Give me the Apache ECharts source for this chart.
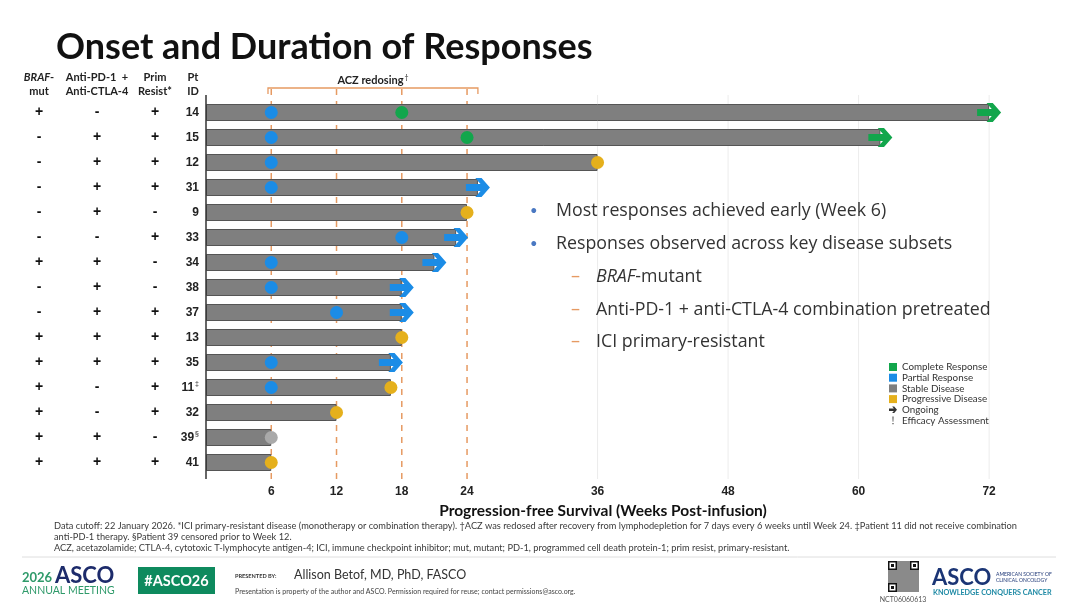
<!DOCTYPE html>
<html>
<head>
<meta charset="utf-8">
<script src="https://cdn.jsdelivr.net/npm/echarts@6/dist/echarts.min.js"></script>
<style>
  html, body { margin: 0; padding: 0; background: #fff; }
  #chart { width: 1080px; height: 608px; }
</style>
</head>
<body>
<div id="chart"></div>
<script>
// patients, top to bottom
const ptIds = ['14', '15', '12', '31', '9', '33', '34', '38', '37', '13', '35', '11', '32', '39', '41'];
const ptMarks = ['', '', '', '', '', '', '', '', '', '', '', '‡', '', '§', ''];
const brafMut = ['+', '-', '-', '-', '-', '-', '+', '-', '-', '+', '+', '+', '+', '+', '+'];
const antiPd1Ctla4 = ['-', '+', '+', '+', '+', '-', '+', '+', '+', '+', '+', '-', '-', '+', '+'];
const primResist = ['+', '+', '+', '+', '-', '+', '-', '-', '+', '+', '+', '+', '+', '-', '+'];
const pfsWeeks = [72, 62, 36, 25, 24, 23, 21, 18, 18, 18, 17, 17, 12, 6, 6];

// [patient, week]
const completeResponse = [['14', 18], ['15', 24]];
const partialResponse = [['14', 6], ['15', 6], ['12', 6], ['31', 6], ['33', 18], ['34', 6],
  ['38', 6], ['37', 12], ['35', 6], ['11', 6]];
const progressiveDisease = [['12', 36], ['9', 24], ['13', 18], ['11', 17], ['32', 12], ['41', 6]];
const stableDisease = [['39', 6]];
const ongoingIds = ['14', '15', '31', '33', '34', '38', '37', '35'];

const xTicks = [6, 12, 18, 24, 36, 48, 60, 72];
const assessmentWeeks = [6, 12, 18, 24];
const gridWeeks = [36, 48, 60, 72];
const aczBracket = [5.7, 25];

const COLORS = {
  cr: '#12a64c', pr: '#1b8ce6', sd: '#7f7f7f', pd: '#e5b01c', sdDot: '#a9a9a9',
  orange: '#e69a62', ink: '#222'
};
const ARROW = 'path://M0,6L14,6L9,0L15,0L23,9.5L15,19L9,19L14,13L0,13Z';
const BANG = 'path://M0,0L0.01,0Z M8,12L8.01,12Z M3.1,0L4.9,0L4.5,8L3.5,8Z M3.1,9.8L4.9,9.8L4.9,11.8L3.1,11.8Z';
const SANS = 'Liberation Sans';
const LATO = 'Lato';
const BODY = 'Open Sans';

const idx = id => ptIds.indexOf(id);
const toPoints = list => list.map(([id, w]) => [w, idx(id)]);
const crIds = completeResponse.map(d => d[0]);

const chart = echarts.init(document.getElementById('chart'));

const tableAxis = (values, offset) => ({
  type: 'category',
  data: ptIds,
  inverse: true,
  position: 'left',
  offset,
  axisLine: { show: false },
  axisTick: { show: false },
  axisLabel: {
    margin: 0,
    align: 'center',
    fontFamily: SANS,
    fontWeight: 'bold',
    fontSize: 14,
    color: '#111',
    formatter: (v, i) => values[i]
  }
});

const dotSeries = (name, list, color) => ({
  name,
  type: 'scatter',
  data: toPoints(list),
  symbolSize: 13,
  z: 4,
  itemStyle: { color, opacity: 1 }
});

chart.setOption({
  backgroundColor: '#fff',
  animation: false,
  grid: { left: 206, right: 80, top: 100, bottom: 133 },
  legend: {
    left: 889,
    top: 362,
    orient: 'vertical',
    selectedMode: false,
    itemWidth: 8,
    itemHeight: 8,
    itemGap: 0.7,
    padding: 0,
    textStyle: { fontFamily: LATO, fontSize: 9.8, color: '#333', lineHeight: 10 },
    data: [
      { name: 'Complete Response', icon: 'rect' },
      { name: 'Partial Response', icon: 'rect' },
      { name: 'Stable Disease', icon: 'rect', itemStyle: { color: COLORS.sd, borderWidth: 0 } },
      { name: 'Progressive Disease', icon: 'rect' },
      { name: 'Ongoing', icon: ARROW, itemStyle: { color: '#000' } },
      { name: 'Efficacy Assessment', icon: BANG, itemStyle: { color: '#222' } }
    ]
  },
  xAxis: {
    type: 'value',
    min: 0,
    max: 73,
    offset: 4,
    splitLine: { show: false },
    axisLine: { lineStyle: { color: '#333', width: 1.5 } },
    axisTick: { customValues: xTicks, length: 5, lineStyle: { color: '#333' } },
    axisLabel: {
      customValues: xTicks,
      margin: 7,
      fontFamily: SANS,
      fontWeight: 'bold',
      fontSize: 12,
      color: COLORS.ink
    },
    name: 'Progression-free Survival (Weeks Post-infusion)',
    nameLocation: 'middle',
    nameGap: 24,
    nameTextStyle: { fontFamily: LATO, fontWeight: 'bold', fontSize: 15.5, color: '#111' }
  },
  yAxis: [
    {
      type: 'category',
      data: ptIds,
      inverse: true,
      axisLine: { show: false },
      axisTick: { alignWithLabel: true, length: 5, lineStyle: { color: '#333' } },
      axisLabel: {
        margin: 7,
        fontFamily: SANS,
        fontWeight: 'bold',
        fontSize: 12,
        color: COLORS.ink,
        formatter: (v, i) => ptMarks[i] ? v + '{sup|' + ptMarks[i] + '}' : v,
        rich: { sup: { fontFamily: SANS, fontSize: 7, color: '#555', padding: [0, 0, 6, 1] } }
      }
    },
    tableAxis(brafMut, 167),
    tableAxis(antiPd1Ctla4, 109),
    tableAxis(primResist, 51)
  ],
  series: [
    {
      name: 'Stable Disease',
      type: 'bar',
      data: pfsWeeks,
      barWidth: 17,
      z: 2,
      itemStyle: { color: COLORS.sd, borderColor: '#555', borderWidth: 1 }
    },
    dotSeries('Stable Disease', stableDisease, COLORS.sdDot),
    dotSeries('Complete Response', completeResponse, COLORS.cr),
    dotSeries('Partial Response', partialResponse, COLORS.pr),
    dotSeries('Progressive Disease', progressiveDisease, COLORS.pd),
    {
      name: 'Ongoing',
      type: 'scatter',
      symbol: ARROW,
      symbolSize: [24, 19],
      z: 5,
      data: ongoingIds.map(id => ({
        value: [pfsWeeks[idx(id)], idx(id)],
        itemStyle: { color: crIds.includes(id) ? COLORS.cr : COLORS.pr, opacity: 1 }
      }))
    },
    { name: 'Efficacy Assessment', type: 'scatter', data: [] }
  ]
});

// annotations positioned through the x scale
const px = w => chart.convertToPixel({ xAxisIndex: 0 }, w);
const gridX = px(0);
const axisBottom = 479;

const txt = (x, y, text, o = {}) => ({
  type: 'text', x, y, z: 10,
  style: Object.assign({
    text, fill: '#333', fontFamily: LATO, fontSize: 12,
    align: 'left', verticalAlign: 'middle'
  }, o)
});

const graphic = [];

gridWeeks.forEach(w => graphic.push({
  type: 'line', z: 0, silent: true,
  shape: { x1: px(w), y1: 95, x2: px(w), y2: axisBottom },
  style: { stroke: '#ececec', lineWidth: 1 }
}));
assessmentWeeks.forEach(w => graphic.push({
  type: 'line', z: 0, silent: true,
  shape: { x1: px(w), y1: 89, x2: px(w), y2: axisBottom },
  style: { stroke: COLORS.orange, lineWidth: 1.5, lineDash: [6, 6] }
}));

// y axis line runs a little past the bands
graphic.push({
  type: 'line', z: 20,
  shape: { x1: gridX, y1: 95, x2: gridX, y2: axisBottom },
  style: { stroke: '#333', lineWidth: 1.5 }
});

// ACZ redosing bracket
const bl = px(aczBracket[0]), br = px(aczBracket[1]);
graphic.push({
  type: 'polyline', z: 10,
  shape: { points: [[bl, 94], [bl, 88], [br, 88], [br, 94]] },
  style: { stroke: COLORS.orange, lineWidth: 1.3, fill: null }
});
graphic.push(txt((bl + br) / 2, 80, 'ACZ redosing{sup|†}', {
  align: 'center', fontWeight: 'bold', fontSize: 11, fill: '#222',
  rich: { sup: { fontFamily: LATO, fontSize: 7, fill: '#222', padding: [0, 0, 5, 1] } }
}));

// title
graphic.push(txt(56, 47, 'Onset and Duration of Responses', {
  fontWeight: 'bold', fontSize: 36, fill: '#111'
}));

// table headers
const head = { align: 'center', fontFamily: LATO, fontWeight: 'bold', fontSize: 11, fill: '#222', lineHeight: 14 };
graphic.push(txt(39, 84, '{it|BRAF}-\nmut', Object.assign({}, head, {
  rich: { it: { fontFamily: LATO, fontWeight: 'bold', fontStyle: 'italic', fontSize: 11, fill: '#222' } }
})));
graphic.push(txt(97, 84, 'Anti-PD-1  +\nAnti-CTLA-4', head));
graphic.push(txt(155, 84, 'Prim\nResist*', head));
graphic.push(txt(193, 84, 'Pt\nID', head));

// bullets
const bullets = [
  { y: 211, level: 0, text: 'Most responses achieved early (Week 6)' },
  { y: 244, level: 0, text: 'Responses observed across key disease subsets' },
  { y: 277, level: 1, text: '{it|BRAF}-mutant' },
  { y: 310, level: 1, text: 'Anti-PD-1 + anti-CTLA-4 combination pretreated' },
  { y: 342, level: 1, text: 'ICI primary-resistant' }
];
const bulletSize = 17.8;
bullets.forEach(b => {
  if (b.level === 0) {
    graphic.push(txt(530, b.y, '•', { fontSize: 13, fill: '#4a78c2' }));
    graphic.push(txt(556, b.y, b.text, { fontFamily: BODY, fontSize: bulletSize, fill: '#333' }));
  } else {
    graphic.push(txt(571, b.y, '–', { fontFamily: BODY, fontSize: 18, fill: COLORS.orange }));
    graphic.push(txt(596, b.y, b.text, {
      fontFamily: BODY, fontSize: bulletSize, fill: '#333',
      rich: { it: { fontFamily: BODY, fontStyle: 'italic', fontSize: bulletSize, fill: '#333' } }
    }));
  }
});

// footnotes
const foot = { fontSize: 9.25, fill: '#3a3a3a' };
graphic.push(txt(54, 526, 'Data cutoff: 22 January 2026. *ICI primary-resistant disease (monotherapy or combination therapy). †ACZ was redosed after recovery from lymphodepletion for 7 days every 6 weeks until Week 24. ‡Patient 11 did not receive combination', foot));
graphic.push(txt(54, 537, 'anti-PD-1 therapy. §Patient 39 censored prior to Week 12.', foot));
graphic.push(txt(54, 548, 'ACZ, acetazolamide; CTLA-4, cytotoxic T-lymphocyte antigen-4; ICI, immune checkpoint inhibitor; mut, mutant; PD-1, programmed cell death protein-1; prim resist, primary-resistant.', foot));
graphic.push({
  type: 'line', z: 0,
  shape: { x1: 22, y1: 557, x2: 1056, y2: 557 },
  style: { stroke: '#dedede', lineWidth: 1 }
});

// meeting banner
graphic.push(txt(22, 578, '2026', { fontWeight: 'bold', fontSize: 13, fill: '#2f9a6a' }));
graphic.push(txt(55, 576, 'ASCO', { fontWeight: 'bold', fontSize: 22, fill: '#1d2b6b' }));
graphic.push(txt(22, 591, 'ANNUAL MEETING', { fontSize: 10.5, fill: '#2f9a6a' }));
graphic.push({
  type: 'rect', z: 5,
  shape: { x: 138, y: 567, width: 77, height: 27 },
  style: { fill: '#0e8a5e' }
});
graphic.push(txt(176.5, 581, '#ASCO26', { align: 'center', fontWeight: 'bold', fontSize: 14.5, fill: '#fff' }));
graphic.push(txt(235, 576, 'PRESENTED BY:', { fontWeight: 'bold', fontSize: 5.6, fill: '#333' }));
graphic.push(txt(294, 575, 'Allison Betof, MD, PhD, FASCO', { fontSize: 12.5, fill: '#333' }));
graphic.push(txt(235, 592, 'Presentation is property of the author and ASCO. Permission required for reuse; contact permissions@asco.org.', { fontSize: 7, fill: '#444' }));

// QR code block
const qx = 888, qy = 561, qs = 31;
graphic.push({ type: 'rect', z: 5, shape: { x: qx, y: qy, width: qs, height: qs }, style: { fill: '#8a8a8a' } });
[[qx, qy], [qx + qs - 9, qy], [qx, qy + qs - 9]].forEach(([x, y]) => {
  graphic.push({ type: 'rect', z: 6, shape: { x, y, width: 9, height: 9 }, style: { fill: '#111' } });
  graphic.push({ type: 'rect', z: 7, shape: { x: x + 1.5, y: y + 1.5, width: 6, height: 6 }, style: { fill: '#fff' } });
  graphic.push({ type: 'rect', z: 8, shape: { x: x + 3, y: y + 3, width: 3, height: 3 }, style: { fill: '#111' } });
});
graphic.push(txt(903, 600, 'NCT06060613', { align: 'center', fontSize: 7, fill: '#555' }));

// society logo
graphic.push(txt(932, 578, 'ASCO', { fontWeight: 'bold', fontSize: 22, fill: '#1b3575' }));
graphic.push(txt(996, 574, 'AMERICAN SOCIETY OF', { fontSize: 5, fill: '#1b3575' }));
graphic.push(txt(996, 580, 'CLINICAL ONCOLOGY', { fontSize: 5, fill: '#1b3575' }));
graphic.push(txt(933, 593, 'KNOWLEDGE CONQUERS CANCER', { fontWeight: 'bold', fontSize: 7.2, fill: '#1f8aa5' }));

chart.setOption({ graphic });
</script>
</body>
</html>
